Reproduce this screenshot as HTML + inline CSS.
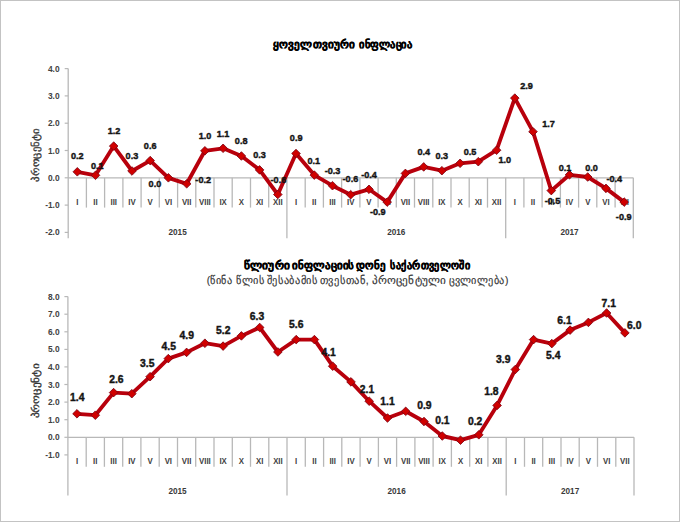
<!DOCTYPE html>
<html><head><meta charset="utf-8"><title>Inflation</title>
<style>
html,body{margin:0;padding:0;background:#fff;}
body{width:680px;height:522px;overflow:hidden;font-family:"Liberation Sans",sans-serif;}
svg{display:block;}
text{font-family:"Liberation Sans",sans-serif;}
.tk{font-size:8.4px;font-weight:bold;fill:#424242;text-anchor:end;}
.ct{font-size:8.4px;font-weight:bold;fill:#3e3e3e;text-anchor:middle;}
.yr{font-size:8.2px;font-weight:bold;fill:#3a3a3a;text-anchor:middle;}
.dl{font-size:9.9px;font-weight:bold;fill:#141414;stroke:#141414;stroke-width:0.42px;text-anchor:middle;}
.ti{font-size:11px;font-weight:bold;fill:#000;stroke:#000;stroke-width:0.35px;text-anchor:middle;}
.st{font-size:11px;fill:#333;stroke:#333;stroke-width:0.15px;text-anchor:middle;}
.ya{font-size:10px;fill:#333;stroke:#333;stroke-width:0.3px;text-anchor:middle;}
</style></head>
<body>
<svg width="680" height="522" viewBox="0 0 680 522">
<rect x="0" y="0" width="680" height="522" fill="#fff"/>
<rect x="0.5" y="0.5" width="679" height="521" fill="none" stroke="#c3c3c3" stroke-width="1"/>
<text x="273.1" y="47.7" class="ti" style="text-anchor:start" textLength="82.0" lengthAdjust="spacingAndGlyphs">ყოველთვიური</text>
<text x="358.9" y="47.7" class="ti" style="text-anchor:start" textLength="53.9" lengthAdjust="spacingAndGlyphs">ინფლაცია</text>
<text x="243.6" y="269.4" class="ti" style="text-anchor:start" textLength="46.5" lengthAdjust="spacingAndGlyphs">წლიური</text>
<text x="292.3" y="269.4" class="ti" style="text-anchor:start" textLength="62.1" lengthAdjust="spacingAndGlyphs">ინფლაციის</text>
<text x="356.4" y="269.4" class="ti" style="text-anchor:start" textLength="29.6" lengthAdjust="spacingAndGlyphs">დონე</text>
<text x="390.1" y="269.4" class="ti" style="text-anchor:start" textLength="80.4" lengthAdjust="spacingAndGlyphs">საქართველოში</text>
<text x="206.7" y="284.4" class="st" style="text-anchor:start" textLength="25.8" lengthAdjust="spacingAndGlyphs">(წინა</text>
<text x="236.1" y="284.4" class="st" style="text-anchor:start" textLength="28.1" lengthAdjust="spacingAndGlyphs">წლის</text>
<text x="266.7" y="284.4" class="st" style="text-anchor:start" textLength="50.8" lengthAdjust="spacingAndGlyphs">შესაბამის</text>
<text x="319.9" y="284.4" class="st" style="text-anchor:start" textLength="48.7" lengthAdjust="spacingAndGlyphs">თვესთან,</text>
<text x="371.7" y="284.4" class="st" style="text-anchor:start" textLength="74.5" lengthAdjust="spacingAndGlyphs">პროცენტული</text>
<text x="449.0" y="284.4" class="st" style="text-anchor:start" textLength="59.4" lengthAdjust="spacingAndGlyphs">ცვლილება)</text>
<text transform="translate(39,155) rotate(-90)" class="ya" id="y1" textLength="53" lengthAdjust="spacingAndGlyphs">პროცენტი</text>
<text transform="translate(39,391) rotate(-90)" class="ya" id="y2" textLength="55" lengthAdjust="spacingAndGlyphs">პროცენტი</text>
<line x1="68.2" y1="68.6" x2="68.2" y2="238.2" stroke="#b8b8b8" stroke-width="1.3"/>
<line x1="64.7" y1="68.6" x2="68.2" y2="68.6" stroke="#b8b8b8" stroke-width="1.2"/>
<text x="59.6" y="71.6" class="tk">4.0</text>
<line x1="64.7" y1="95.9" x2="68.2" y2="95.9" stroke="#b8b8b8" stroke-width="1.2"/>
<text x="59.6" y="98.9" class="tk">3.0</text>
<line x1="64.7" y1="123.2" x2="68.2" y2="123.2" stroke="#b8b8b8" stroke-width="1.2"/>
<text x="59.6" y="126.2" class="tk">2.0</text>
<line x1="64.7" y1="150.5" x2="68.2" y2="150.5" stroke="#b8b8b8" stroke-width="1.2"/>
<text x="59.6" y="153.5" class="tk">1.0</text>
<line x1="64.7" y1="177.8" x2="68.2" y2="177.8" stroke="#b8b8b8" stroke-width="1.2"/>
<text x="59.6" y="180.8" class="tk">0.0</text>
<line x1="64.7" y1="205.1" x2="68.2" y2="205.1" stroke="#b8b8b8" stroke-width="1.2"/>
<text x="59.6" y="208.1" class="tk">-1.0</text>
<line x1="64.7" y1="232.4" x2="68.2" y2="232.4" stroke="#b8b8b8" stroke-width="1.2"/>
<text x="59.6" y="235.4" class="tk">-2.0</text>
<line x1="68.2" y1="177.8" x2="633.3" y2="177.8" stroke="#b8b8b8" stroke-width="1.3"/>
<line x1="86.4" y1="177.8" x2="86.4" y2="207.6" stroke="#b8b8b8" stroke-width="1.3"/>
<line x1="104.6" y1="177.8" x2="104.6" y2="207.6" stroke="#b8b8b8" stroke-width="1.3"/>
<line x1="122.9" y1="177.8" x2="122.9" y2="207.6" stroke="#b8b8b8" stroke-width="1.3"/>
<line x1="141.1" y1="177.8" x2="141.1" y2="207.6" stroke="#b8b8b8" stroke-width="1.3"/>
<line x1="159.3" y1="177.8" x2="159.3" y2="207.6" stroke="#b8b8b8" stroke-width="1.3"/>
<line x1="177.6" y1="177.8" x2="177.6" y2="207.6" stroke="#b8b8b8" stroke-width="1.3"/>
<line x1="195.8" y1="177.8" x2="195.8" y2="207.6" stroke="#b8b8b8" stroke-width="1.3"/>
<line x1="214.0" y1="177.8" x2="214.0" y2="207.6" stroke="#b8b8b8" stroke-width="1.3"/>
<line x1="232.2" y1="177.8" x2="232.2" y2="207.6" stroke="#b8b8b8" stroke-width="1.3"/>
<line x1="250.5" y1="177.8" x2="250.5" y2="207.6" stroke="#b8b8b8" stroke-width="1.3"/>
<line x1="268.7" y1="177.8" x2="268.7" y2="207.6" stroke="#b8b8b8" stroke-width="1.3"/>
<line x1="286.9" y1="177.8" x2="286.9" y2="238.2" stroke="#b8b8b8" stroke-width="1.3"/>
<line x1="305.2" y1="177.8" x2="305.2" y2="207.6" stroke="#b8b8b8" stroke-width="1.3"/>
<line x1="323.4" y1="177.8" x2="323.4" y2="207.6" stroke="#b8b8b8" stroke-width="1.3"/>
<line x1="341.6" y1="177.8" x2="341.6" y2="207.6" stroke="#b8b8b8" stroke-width="1.3"/>
<line x1="359.9" y1="177.8" x2="359.9" y2="207.6" stroke="#b8b8b8" stroke-width="1.3"/>
<line x1="378.1" y1="177.8" x2="378.1" y2="207.6" stroke="#b8b8b8" stroke-width="1.3"/>
<line x1="396.3" y1="177.8" x2="396.3" y2="207.6" stroke="#b8b8b8" stroke-width="1.3"/>
<line x1="414.5" y1="177.8" x2="414.5" y2="207.6" stroke="#b8b8b8" stroke-width="1.3"/>
<line x1="432.8" y1="177.8" x2="432.8" y2="207.6" stroke="#b8b8b8" stroke-width="1.3"/>
<line x1="451.0" y1="177.8" x2="451.0" y2="207.6" stroke="#b8b8b8" stroke-width="1.3"/>
<line x1="469.2" y1="177.8" x2="469.2" y2="207.6" stroke="#b8b8b8" stroke-width="1.3"/>
<line x1="487.5" y1="177.8" x2="487.5" y2="207.6" stroke="#b8b8b8" stroke-width="1.3"/>
<line x1="505.7" y1="177.8" x2="505.7" y2="238.2" stroke="#b8b8b8" stroke-width="1.3"/>
<line x1="523.9" y1="177.8" x2="523.9" y2="207.6" stroke="#b8b8b8" stroke-width="1.3"/>
<line x1="542.1" y1="177.8" x2="542.1" y2="207.6" stroke="#b8b8b8" stroke-width="1.3"/>
<line x1="560.4" y1="177.8" x2="560.4" y2="207.6" stroke="#b8b8b8" stroke-width="1.3"/>
<line x1="578.6" y1="177.8" x2="578.6" y2="207.6" stroke="#b8b8b8" stroke-width="1.3"/>
<line x1="596.8" y1="177.8" x2="596.8" y2="207.6" stroke="#b8b8b8" stroke-width="1.3"/>
<line x1="615.1" y1="177.8" x2="615.1" y2="207.6" stroke="#b8b8b8" stroke-width="1.3"/>
<line x1="633.3" y1="177.8" x2="633.3" y2="238.2" stroke="#b8b8b8" stroke-width="1.3"/>
<text transform="translate(77.28,205.0) scale(0.93,1)" class="ct">I</text>
<text transform="translate(95.52,205.0) scale(0.93,1)" class="ct">II</text>
<text transform="translate(113.75,205.0) scale(0.93,1)" class="ct">III</text>
<text transform="translate(131.97,205.0) scale(0.93,1)" class="ct">IV</text>
<text transform="translate(150.20,205.0) scale(0.93,1)" class="ct">V</text>
<text transform="translate(168.44,205.0) scale(0.93,1)" class="ct">VI</text>
<text transform="translate(186.67,205.0) scale(0.93,1)" class="ct">VII</text>
<text transform="translate(204.89,205.0) scale(0.93,1)" class="ct">VIII</text>
<text transform="translate(223.12,205.0) scale(0.93,1)" class="ct">IX</text>
<text transform="translate(241.36,205.0) scale(0.93,1)" class="ct">X</text>
<text transform="translate(259.58,205.0) scale(0.93,1)" class="ct">XI</text>
<text transform="translate(277.81,205.0) scale(0.93,1)" class="ct">XII</text>
<text transform="translate(296.05,205.0) scale(0.93,1)" class="ct">I</text>
<text transform="translate(314.28,205.0) scale(0.93,1)" class="ct">II</text>
<text transform="translate(332.50,205.0) scale(0.93,1)" class="ct">III</text>
<text transform="translate(350.74,205.0) scale(0.93,1)" class="ct">IV</text>
<text transform="translate(368.97,205.0) scale(0.93,1)" class="ct">V</text>
<text transform="translate(387.20,205.0) scale(0.93,1)" class="ct">VI</text>
<text transform="translate(405.43,205.0) scale(0.93,1)" class="ct">VII</text>
<text transform="translate(423.66,205.0) scale(0.93,1)" class="ct">VIII</text>
<text transform="translate(441.89,205.0) scale(0.93,1)" class="ct">IX</text>
<text transform="translate(460.12,205.0) scale(0.93,1)" class="ct">X</text>
<text transform="translate(478.35,205.0) scale(0.93,1)" class="ct">XI</text>
<text transform="translate(496.58,205.0) scale(0.93,1)" class="ct">XII</text>
<text transform="translate(514.80,205.0) scale(0.93,1)" class="ct">I</text>
<text transform="translate(533.03,205.0) scale(0.93,1)" class="ct">II</text>
<text transform="translate(551.26,205.0) scale(0.93,1)" class="ct">III</text>
<text transform="translate(569.50,205.0) scale(0.93,1)" class="ct">IV</text>
<text transform="translate(587.73,205.0) scale(0.93,1)" class="ct">V</text>
<text transform="translate(605.95,205.0) scale(0.93,1)" class="ct">VI</text>
<text transform="translate(624.18,205.0) scale(0.93,1)" class="ct">VII</text>
<text x="177.6" y="235.3" class="yr">2015</text>
<text x="396.3" y="235.3" class="yr">2016</text>
<text x="569.5" y="235.3" class="yr">2017</text>
<polyline points="77.3,171.8 95.5,175.3 113.7,146.1 132.0,171.0 150.2,160.6 168.4,177.8 186.7,183.8 204.9,150.8 223.1,148.3 241.4,156.0 259.6,169.9 277.8,194.5 296.0,153.5 314.3,175.1 332.5,185.7 350.7,194.7 369.0,189.3 387.2,202.1 405.4,173.4 423.7,166.9 441.9,170.7 460.1,163.3 478.3,161.7 496.6,150.2 514.8,98.1 533.0,131.7 551.3,190.6 569.5,174.8 587.7,177.0 606.0,188.4 624.2,202.1" fill="none" stroke="#b8000c" stroke-width="3.85" stroke-linejoin="round"/>
<path d="M77.3 167.5L81.6 171.8L77.3 176.1L73.0 171.8Z" fill="#d00000" stroke="#780010" stroke-width="0.8"/>
<path d="M95.5 171.0L99.8 175.3L95.5 179.6L91.2 175.3Z" fill="#d00000" stroke="#780010" stroke-width="0.8"/>
<path d="M113.7 141.8L118.0 146.1L113.7 150.4L109.4 146.1Z" fill="#d00000" stroke="#780010" stroke-width="0.8"/>
<path d="M132.0 166.7L136.3 171.0L132.0 175.3L127.7 171.0Z" fill="#d00000" stroke="#780010" stroke-width="0.8"/>
<path d="M150.2 156.3L154.5 160.6L150.2 164.9L145.9 160.6Z" fill="#d00000" stroke="#780010" stroke-width="0.8"/>
<path d="M168.4 173.5L172.7 177.8L168.4 182.1L164.1 177.8Z" fill="#d00000" stroke="#780010" stroke-width="0.8"/>
<path d="M186.7 179.5L191.0 183.8L186.7 188.1L182.4 183.8Z" fill="#d00000" stroke="#780010" stroke-width="0.8"/>
<path d="M204.9 146.5L209.2 150.8L204.9 155.1L200.6 150.8Z" fill="#d00000" stroke="#780010" stroke-width="0.8"/>
<path d="M223.1 144.0L227.4 148.3L223.1 152.6L218.8 148.3Z" fill="#d00000" stroke="#780010" stroke-width="0.8"/>
<path d="M241.4 151.7L245.7 156.0L241.4 160.3L237.1 156.0Z" fill="#d00000" stroke="#780010" stroke-width="0.8"/>
<path d="M259.6 165.6L263.9 169.9L259.6 174.2L255.3 169.9Z" fill="#d00000" stroke="#780010" stroke-width="0.8"/>
<path d="M277.8 190.2L282.1 194.5L277.8 198.8L273.5 194.5Z" fill="#d00000" stroke="#780010" stroke-width="0.8"/>
<path d="M296.0 149.2L300.3 153.5L296.0 157.8L291.7 153.5Z" fill="#d00000" stroke="#780010" stroke-width="0.8"/>
<path d="M314.3 170.8L318.6 175.1L314.3 179.4L310.0 175.1Z" fill="#d00000" stroke="#780010" stroke-width="0.8"/>
<path d="M332.5 181.4L336.8 185.7L332.5 190.0L328.2 185.7Z" fill="#d00000" stroke="#780010" stroke-width="0.8"/>
<path d="M350.7 190.4L355.0 194.7L350.7 199.0L346.4 194.7Z" fill="#d00000" stroke="#780010" stroke-width="0.8"/>
<path d="M369.0 185.0L373.3 189.3L369.0 193.6L364.7 189.3Z" fill="#d00000" stroke="#780010" stroke-width="0.8"/>
<path d="M387.2 197.8L391.5 202.1L387.2 206.4L382.9 202.1Z" fill="#d00000" stroke="#780010" stroke-width="0.8"/>
<path d="M405.4 169.1L409.7 173.4L405.4 177.7L401.1 173.4Z" fill="#d00000" stroke="#780010" stroke-width="0.8"/>
<path d="M423.7 162.6L428.0 166.9L423.7 171.2L419.4 166.9Z" fill="#d00000" stroke="#780010" stroke-width="0.8"/>
<path d="M441.9 166.4L446.2 170.7L441.9 175.0L437.6 170.7Z" fill="#d00000" stroke="#780010" stroke-width="0.8"/>
<path d="M460.1 159.0L464.4 163.3L460.1 167.6L455.8 163.3Z" fill="#d00000" stroke="#780010" stroke-width="0.8"/>
<path d="M478.3 157.4L482.6 161.7L478.3 166.0L474.0 161.7Z" fill="#d00000" stroke="#780010" stroke-width="0.8"/>
<path d="M496.6 145.9L500.9 150.2L496.6 154.5L492.3 150.2Z" fill="#d00000" stroke="#780010" stroke-width="0.8"/>
<path d="M514.8 93.8L519.1 98.1L514.8 102.4L510.5 98.1Z" fill="#d00000" stroke="#780010" stroke-width="0.8"/>
<path d="M533.0 127.4L537.3 131.7L533.0 136.0L528.7 131.7Z" fill="#d00000" stroke="#780010" stroke-width="0.8"/>
<path d="M551.3 186.3L555.6 190.6L551.3 194.9L547.0 190.6Z" fill="#d00000" stroke="#780010" stroke-width="0.8"/>
<path d="M569.5 170.5L573.8 174.8L569.5 179.1L565.2 174.8Z" fill="#d00000" stroke="#780010" stroke-width="0.8"/>
<path d="M587.7 172.7L592.0 177.0L587.7 181.3L583.4 177.0Z" fill="#d00000" stroke="#780010" stroke-width="0.8"/>
<path d="M606.0 184.1L610.3 188.4L606.0 192.7L601.7 188.4Z" fill="#d00000" stroke="#780010" stroke-width="0.8"/>
<path d="M624.2 197.8L628.5 202.1L624.2 206.4L619.9 202.1Z" fill="#d00000" stroke="#780010" stroke-width="0.8"/>
<text transform="translate(77.3,158.8) scale(0.94,1)" class="dl" style="font-size:9.7px">0.2</text>
<text transform="translate(97.3,168.5) scale(0.94,1)" class="dl" style="font-size:9.7px">0.1</text>
<text transform="translate(114.0,133.9) scale(0.94,1)" class="dl" style="font-size:9.7px">1.2</text>
<text transform="translate(131.9,158.8) scale(0.94,1)" class="dl" style="font-size:9.7px">0.3</text>
<text transform="translate(150.2,148.5) scale(0.94,1)" class="dl" style="font-size:9.7px">0.6</text>
<text transform="translate(154.9,186.5) scale(0.94,1)" class="dl" style="font-size:9.7px">0.0</text>
<text transform="translate(203.2,182.5) scale(0.94,1)" class="dl" style="font-size:9.7px">-0.2</text>
<text transform="translate(205.1,139.3) scale(0.94,1)" class="dl" style="font-size:9.7px">1.0</text>
<text transform="translate(223.0,137.2) scale(0.94,1)" class="dl" style="font-size:9.7px">1.1</text>
<text transform="translate(241.2,143.8) scale(0.94,1)" class="dl" style="font-size:9.7px">0.8</text>
<text transform="translate(259.5,158.2) scale(0.94,1)" class="dl" style="font-size:9.7px">0.3</text>
<text transform="translate(278.4,183.1) scale(0.94,1)" class="dl" style="font-size:9.7px">-0.6</text>
<text transform="translate(296.2,141.2) scale(0.94,1)" class="dl" style="font-size:9.7px">0.9</text>
<text transform="translate(313.8,163.8) scale(0.94,1)" class="dl" style="font-size:9.7px">0.1</text>
<text transform="translate(332.5,173.7) scale(0.94,1)" class="dl" style="font-size:9.7px">-0.3</text>
<text transform="translate(350.4,182.3) scale(0.94,1)" class="dl" style="font-size:9.7px">-0.6</text>
<text transform="translate(369.0,177.8) scale(0.94,1)" class="dl" style="font-size:9.7px">-0.4</text>
<text transform="translate(377.8,214.7) scale(0.94,1)" class="dl" style="font-size:9.7px">-0.9</text>
<text transform="translate(423.8,155.2) scale(0.94,1)" class="dl" style="font-size:9.7px">0.4</text>
<text transform="translate(441.8,159.3) scale(0.94,1)" class="dl" style="font-size:9.7px">0.3</text>
<text transform="translate(470.0,154.6) scale(0.94,1)" class="dl" style="font-size:9.7px">0.5</text>
<text transform="translate(504.8,162.8) scale(0.94,1)" class="dl" style="font-size:9.7px">1.0</text>
<text transform="translate(526.6,89.1) scale(0.94,1)" class="dl" style="font-size:9.7px">2.9</text>
<text transform="translate(548.6,127.0) scale(0.94,1)" class="dl" style="font-size:9.7px">1.7</text>
<text transform="translate(552.5,203.5) scale(0.94,1)" class="dl" style="font-size:9.7px">-0.5</text>
<text transform="translate(565.0,170.7) scale(0.94,1)" class="dl" style="font-size:9.7px">0.1</text>
<text transform="translate(591.5,170.7) scale(0.94,1)" class="dl" style="font-size:9.7px">0.0</text>
<text transform="translate(614.3,181.7) scale(0.94,1)" class="dl" style="font-size:9.7px">-0.4</text>
<text transform="translate(623.7,219.9) scale(0.94,1)" class="dl" style="font-size:9.7px">-0.9</text>
<line x1="67.9" y1="296.6" x2="67.9" y2="495.4" stroke="#b8b8b8" stroke-width="1.3"/>
<line x1="64.4" y1="296.6" x2="67.9" y2="296.6" stroke="#b8b8b8" stroke-width="1.2"/>
<text x="59.6" y="299.6" class="tk">8.0</text>
<line x1="64.4" y1="314.2" x2="67.9" y2="314.2" stroke="#b8b8b8" stroke-width="1.2"/>
<text x="59.6" y="317.2" class="tk">7.0</text>
<line x1="64.4" y1="331.8" x2="67.9" y2="331.8" stroke="#b8b8b8" stroke-width="1.2"/>
<text x="59.6" y="334.8" class="tk">6.0</text>
<line x1="64.4" y1="349.4" x2="67.9" y2="349.4" stroke="#b8b8b8" stroke-width="1.2"/>
<text x="59.6" y="352.4" class="tk">5.0</text>
<line x1="64.4" y1="366.9" x2="67.9" y2="366.9" stroke="#b8b8b8" stroke-width="1.2"/>
<text x="59.6" y="369.9" class="tk">4.0</text>
<line x1="64.4" y1="384.5" x2="67.9" y2="384.5" stroke="#b8b8b8" stroke-width="1.2"/>
<text x="59.6" y="387.5" class="tk">3.0</text>
<line x1="64.4" y1="402.1" x2="67.9" y2="402.1" stroke="#b8b8b8" stroke-width="1.2"/>
<text x="59.6" y="405.1" class="tk">2.0</text>
<line x1="64.4" y1="419.7" x2="67.9" y2="419.7" stroke="#b8b8b8" stroke-width="1.2"/>
<text x="59.6" y="422.7" class="tk">1.0</text>
<line x1="64.4" y1="437.3" x2="67.9" y2="437.3" stroke="#b8b8b8" stroke-width="1.2"/>
<text x="59.6" y="440.3" class="tk">0.0</text>
<line x1="64.4" y1="454.9" x2="67.9" y2="454.9" stroke="#b8b8b8" stroke-width="1.2"/>
<text x="59.6" y="457.9" class="tk">-1.0</text>
<line x1="67.9" y1="437.3" x2="634.0" y2="437.3" stroke="#b8b8b8" stroke-width="1.3"/>
<line x1="86.2" y1="437.3" x2="86.2" y2="466.8" stroke="#b8b8b8" stroke-width="1.3"/>
<line x1="104.4" y1="437.3" x2="104.4" y2="466.8" stroke="#b8b8b8" stroke-width="1.3"/>
<line x1="122.7" y1="437.3" x2="122.7" y2="466.8" stroke="#b8b8b8" stroke-width="1.3"/>
<line x1="140.9" y1="437.3" x2="140.9" y2="466.8" stroke="#b8b8b8" stroke-width="1.3"/>
<line x1="159.2" y1="437.3" x2="159.2" y2="466.8" stroke="#b8b8b8" stroke-width="1.3"/>
<line x1="177.5" y1="437.3" x2="177.5" y2="466.8" stroke="#b8b8b8" stroke-width="1.3"/>
<line x1="195.7" y1="437.3" x2="195.7" y2="466.8" stroke="#b8b8b8" stroke-width="1.3"/>
<line x1="214.0" y1="437.3" x2="214.0" y2="466.8" stroke="#b8b8b8" stroke-width="1.3"/>
<line x1="232.3" y1="437.3" x2="232.3" y2="466.8" stroke="#b8b8b8" stroke-width="1.3"/>
<line x1="250.5" y1="437.3" x2="250.5" y2="466.8" stroke="#b8b8b8" stroke-width="1.3"/>
<line x1="268.8" y1="437.3" x2="268.8" y2="466.8" stroke="#b8b8b8" stroke-width="1.3"/>
<line x1="287.0" y1="437.3" x2="287.0" y2="495.4" stroke="#b8b8b8" stroke-width="1.3"/>
<line x1="305.3" y1="437.3" x2="305.3" y2="466.8" stroke="#b8b8b8" stroke-width="1.3"/>
<line x1="323.6" y1="437.3" x2="323.6" y2="466.8" stroke="#b8b8b8" stroke-width="1.3"/>
<line x1="341.8" y1="437.3" x2="341.8" y2="466.8" stroke="#b8b8b8" stroke-width="1.3"/>
<line x1="360.1" y1="437.3" x2="360.1" y2="466.8" stroke="#b8b8b8" stroke-width="1.3"/>
<line x1="378.4" y1="437.3" x2="378.4" y2="466.8" stroke="#b8b8b8" stroke-width="1.3"/>
<line x1="396.6" y1="437.3" x2="396.6" y2="466.8" stroke="#b8b8b8" stroke-width="1.3"/>
<line x1="414.9" y1="437.3" x2="414.9" y2="466.8" stroke="#b8b8b8" stroke-width="1.3"/>
<line x1="433.1" y1="437.3" x2="433.1" y2="466.8" stroke="#b8b8b8" stroke-width="1.3"/>
<line x1="451.4" y1="437.3" x2="451.4" y2="466.8" stroke="#b8b8b8" stroke-width="1.3"/>
<line x1="469.7" y1="437.3" x2="469.7" y2="466.8" stroke="#b8b8b8" stroke-width="1.3"/>
<line x1="487.9" y1="437.3" x2="487.9" y2="466.8" stroke="#b8b8b8" stroke-width="1.3"/>
<line x1="506.2" y1="437.3" x2="506.2" y2="495.4" stroke="#b8b8b8" stroke-width="1.3"/>
<line x1="524.5" y1="437.3" x2="524.5" y2="466.8" stroke="#b8b8b8" stroke-width="1.3"/>
<line x1="542.7" y1="437.3" x2="542.7" y2="466.8" stroke="#b8b8b8" stroke-width="1.3"/>
<line x1="561.0" y1="437.3" x2="561.0" y2="466.8" stroke="#b8b8b8" stroke-width="1.3"/>
<line x1="579.2" y1="437.3" x2="579.2" y2="466.8" stroke="#b8b8b8" stroke-width="1.3"/>
<line x1="597.5" y1="437.3" x2="597.5" y2="466.8" stroke="#b8b8b8" stroke-width="1.3"/>
<line x1="615.8" y1="437.3" x2="615.8" y2="466.8" stroke="#b8b8b8" stroke-width="1.3"/>
<line x1="634.0" y1="437.3" x2="634.0" y2="495.4" stroke="#b8b8b8" stroke-width="1.3"/>
<text transform="translate(77.03,464.0) scale(0.93,1)" class="ct">I</text>
<text transform="translate(95.29,464.0) scale(0.93,1)" class="ct">II</text>
<text transform="translate(113.56,464.0) scale(0.93,1)" class="ct">III</text>
<text transform="translate(131.82,464.0) scale(0.93,1)" class="ct">IV</text>
<text transform="translate(150.08,464.0) scale(0.93,1)" class="ct">V</text>
<text transform="translate(168.34,464.0) scale(0.93,1)" class="ct">VI</text>
<text transform="translate(186.60,464.0) scale(0.93,1)" class="ct">VII</text>
<text transform="translate(204.87,464.0) scale(0.93,1)" class="ct">VIII</text>
<text transform="translate(223.13,464.0) scale(0.93,1)" class="ct">IX</text>
<text transform="translate(241.39,464.0) scale(0.93,1)" class="ct">X</text>
<text transform="translate(259.65,464.0) scale(0.93,1)" class="ct">XI</text>
<text transform="translate(277.91,464.0) scale(0.93,1)" class="ct">XII</text>
<text transform="translate(296.18,464.0) scale(0.93,1)" class="ct">I</text>
<text transform="translate(314.44,464.0) scale(0.93,1)" class="ct">II</text>
<text transform="translate(332.70,464.0) scale(0.93,1)" class="ct">III</text>
<text transform="translate(350.96,464.0) scale(0.93,1)" class="ct">IV</text>
<text transform="translate(369.22,464.0) scale(0.93,1)" class="ct">V</text>
<text transform="translate(387.49,464.0) scale(0.93,1)" class="ct">VI</text>
<text transform="translate(405.75,464.0) scale(0.93,1)" class="ct">VII</text>
<text transform="translate(424.01,464.0) scale(0.93,1)" class="ct">VIII</text>
<text transform="translate(442.27,464.0) scale(0.93,1)" class="ct">IX</text>
<text transform="translate(460.53,464.0) scale(0.93,1)" class="ct">X</text>
<text transform="translate(478.79,464.0) scale(0.93,1)" class="ct">XI</text>
<text transform="translate(497.06,464.0) scale(0.93,1)" class="ct">XII</text>
<text transform="translate(515.32,464.0) scale(0.93,1)" class="ct">I</text>
<text transform="translate(533.58,464.0) scale(0.93,1)" class="ct">II</text>
<text transform="translate(551.84,464.0) scale(0.93,1)" class="ct">III</text>
<text transform="translate(570.11,464.0) scale(0.93,1)" class="ct">IV</text>
<text transform="translate(588.37,464.0) scale(0.93,1)" class="ct">V</text>
<text transform="translate(606.63,464.0) scale(0.93,1)" class="ct">VI</text>
<text transform="translate(624.89,464.0) scale(0.93,1)" class="ct">VII</text>
<text x="177.5" y="494.0" class="yr">2015</text>
<text x="396.6" y="494.0" class="yr">2016</text>
<text x="570.1" y="494.0" class="yr">2017</text>
<polyline points="77.0,413.8 95.3,415.2 113.6,392.6 131.8,393.7 150.1,376.7 168.3,358.6 186.6,352.4 204.9,343.2 223.1,346.1 241.4,335.9 259.7,327.5 277.9,352.0 296.2,339.6 314.4,339.6 332.7,366.2 351.0,381.9 369.2,401.2 387.5,418.0 405.7,411.3 424.0,421.5 442.3,436.0 460.5,440.2 478.8,434.8 497.1,405.4 515.3,369.5 533.6,339.6 551.8,343.6 570.1,330.1 588.4,322.4 606.6,313.0 624.9,332.9" fill="none" stroke="#b8000c" stroke-width="3.85" stroke-linejoin="round"/>
<path d="M77.0 409.5L81.3 413.8L77.0 418.1L72.7 413.8Z" fill="#d00000" stroke="#780010" stroke-width="0.8"/>
<path d="M95.3 410.9L99.6 415.2L95.3 419.5L91.0 415.2Z" fill="#d00000" stroke="#780010" stroke-width="0.8"/>
<path d="M113.6 388.3L117.9 392.6L113.6 396.9L109.3 392.6Z" fill="#d00000" stroke="#780010" stroke-width="0.8"/>
<path d="M131.8 389.4L136.1 393.7L131.8 398.0L127.5 393.7Z" fill="#d00000" stroke="#780010" stroke-width="0.8"/>
<path d="M150.1 372.4L154.4 376.7L150.1 381.0L145.8 376.7Z" fill="#d00000" stroke="#780010" stroke-width="0.8"/>
<path d="M168.3 354.3L172.6 358.6L168.3 362.9L164.0 358.6Z" fill="#d00000" stroke="#780010" stroke-width="0.8"/>
<path d="M186.6 348.1L190.9 352.4L186.6 356.7L182.3 352.4Z" fill="#d00000" stroke="#780010" stroke-width="0.8"/>
<path d="M204.9 338.9L209.2 343.2L204.9 347.6L200.6 343.2Z" fill="#d00000" stroke="#780010" stroke-width="0.8"/>
<path d="M223.1 341.8L227.4 346.1L223.1 350.4L218.8 346.1Z" fill="#d00000" stroke="#780010" stroke-width="0.8"/>
<path d="M241.4 331.6L245.7 335.9L241.4 340.2L237.1 335.9Z" fill="#d00000" stroke="#780010" stroke-width="0.8"/>
<path d="M259.7 323.2L264.0 327.5L259.7 331.8L255.4 327.5Z" fill="#d00000" stroke="#780010" stroke-width="0.8"/>
<path d="M277.9 347.7L282.2 352.0L277.9 356.3L273.6 352.0Z" fill="#d00000" stroke="#780010" stroke-width="0.8"/>
<path d="M296.2 335.3L300.5 339.6L296.2 343.9L291.9 339.6Z" fill="#d00000" stroke="#780010" stroke-width="0.8"/>
<path d="M314.4 335.3L318.7 339.6L314.4 343.9L310.1 339.6Z" fill="#d00000" stroke="#780010" stroke-width="0.8"/>
<path d="M332.7 361.9L337.0 366.2L332.7 370.5L328.4 366.2Z" fill="#d00000" stroke="#780010" stroke-width="0.8"/>
<path d="M351.0 377.6L355.3 381.9L351.0 386.2L346.7 381.9Z" fill="#d00000" stroke="#780010" stroke-width="0.8"/>
<path d="M369.2 396.9L373.5 401.2L369.2 405.5L364.9 401.2Z" fill="#d00000" stroke="#780010" stroke-width="0.8"/>
<path d="M387.5 413.7L391.8 418.0L387.5 422.3L383.2 418.0Z" fill="#d00000" stroke="#780010" stroke-width="0.8"/>
<path d="M405.7 407.0L410.0 411.3L405.7 415.6L401.4 411.3Z" fill="#d00000" stroke="#780010" stroke-width="0.8"/>
<path d="M424.0 417.2L428.3 421.5L424.0 425.8L419.7 421.5Z" fill="#d00000" stroke="#780010" stroke-width="0.8"/>
<path d="M442.3 431.7L446.6 436.0L442.3 440.3L438.0 436.0Z" fill="#d00000" stroke="#780010" stroke-width="0.8"/>
<path d="M460.5 435.9L464.8 440.2L460.5 444.5L456.2 440.2Z" fill="#d00000" stroke="#780010" stroke-width="0.8"/>
<path d="M478.8 430.5L483.1 434.8L478.8 439.1L474.5 434.8Z" fill="#d00000" stroke="#780010" stroke-width="0.8"/>
<path d="M497.1 401.1L501.4 405.4L497.1 409.7L492.8 405.4Z" fill="#d00000" stroke="#780010" stroke-width="0.8"/>
<path d="M515.3 365.2L519.6 369.5L515.3 373.8L511.0 369.5Z" fill="#d00000" stroke="#780010" stroke-width="0.8"/>
<path d="M533.6 335.3L537.9 339.6L533.6 343.9L529.3 339.6Z" fill="#d00000" stroke="#780010" stroke-width="0.8"/>
<path d="M551.8 339.3L556.1 343.6L551.8 347.9L547.5 343.6Z" fill="#d00000" stroke="#780010" stroke-width="0.8"/>
<path d="M570.1 325.8L574.4 330.1L570.1 334.4L565.8 330.1Z" fill="#d00000" stroke="#780010" stroke-width="0.8"/>
<path d="M588.4 318.1L592.7 322.4L588.4 326.7L584.1 322.4Z" fill="#d00000" stroke="#780010" stroke-width="0.8"/>
<path d="M606.6 308.7L610.9 313.0L606.6 317.3L602.3 313.0Z" fill="#d00000" stroke="#780010" stroke-width="0.8"/>
<path d="M624.9 328.6L629.2 332.9L624.9 337.2L620.6 332.9Z" fill="#d00000" stroke="#780010" stroke-width="0.8"/>
<text transform="translate(77.3,400.7) scale(0.95,1)" class="dl" style="font-size:10.9px">1.4</text>
<text transform="translate(116.4,382.8) scale(0.95,1)" class="dl" style="font-size:10.9px">2.6</text>
<text transform="translate(147.2,366.5) scale(0.95,1)" class="dl" style="font-size:10.9px">3.5</text>
<text transform="translate(168.8,349.8) scale(0.95,1)" class="dl" style="font-size:10.9px">4.5</text>
<text transform="translate(186.8,339.4) scale(0.95,1)" class="dl" style="font-size:10.9px">4.9</text>
<text transform="translate(223.2,333.9) scale(0.95,1)" class="dl" style="font-size:10.9px">5.2</text>
<text transform="translate(257.0,319.7) scale(0.95,1)" class="dl" style="font-size:10.9px">6.3</text>
<text transform="translate(296.2,327.7) scale(0.95,1)" class="dl" style="font-size:10.9px">5.6</text>
<text transform="translate(328.6,356.0) scale(0.95,1)" class="dl" style="font-size:10.9px">4.1</text>
<text transform="translate(367.0,393.2) scale(0.95,1)" class="dl" style="font-size:10.9px">2.1</text>
<text transform="translate(387.5,405.0) scale(0.95,1)" class="dl" style="font-size:10.9px">1.1</text>
<text transform="translate(424.4,409.0) scale(0.95,1)" class="dl" style="font-size:10.9px">0.9</text>
<text transform="translate(442.4,423.8) scale(0.95,1)" class="dl" style="font-size:10.9px">0.1</text>
<text transform="translate(475.1,425.0) scale(0.95,1)" class="dl" style="font-size:10.9px">0.2</text>
<text transform="translate(491.4,395.1) scale(0.95,1)" class="dl" style="font-size:10.9px">1.8</text>
<text transform="translate(503.3,362.8) scale(0.95,1)" class="dl" style="font-size:10.9px">3.9</text>
<text transform="translate(553.2,359.2) scale(0.95,1)" class="dl" style="font-size:10.9px">5.4</text>
<text transform="translate(564.5,324.4) scale(0.95,1)" class="dl" style="font-size:10.9px">6.1</text>
<text transform="translate(608.8,306.7) scale(0.95,1)" class="dl" style="font-size:10.9px">7.1</text>
<text transform="translate(634.2,329.1) scale(0.95,1)" class="dl" style="font-size:10.9px">6.0</text>
</svg>
</body></html>
